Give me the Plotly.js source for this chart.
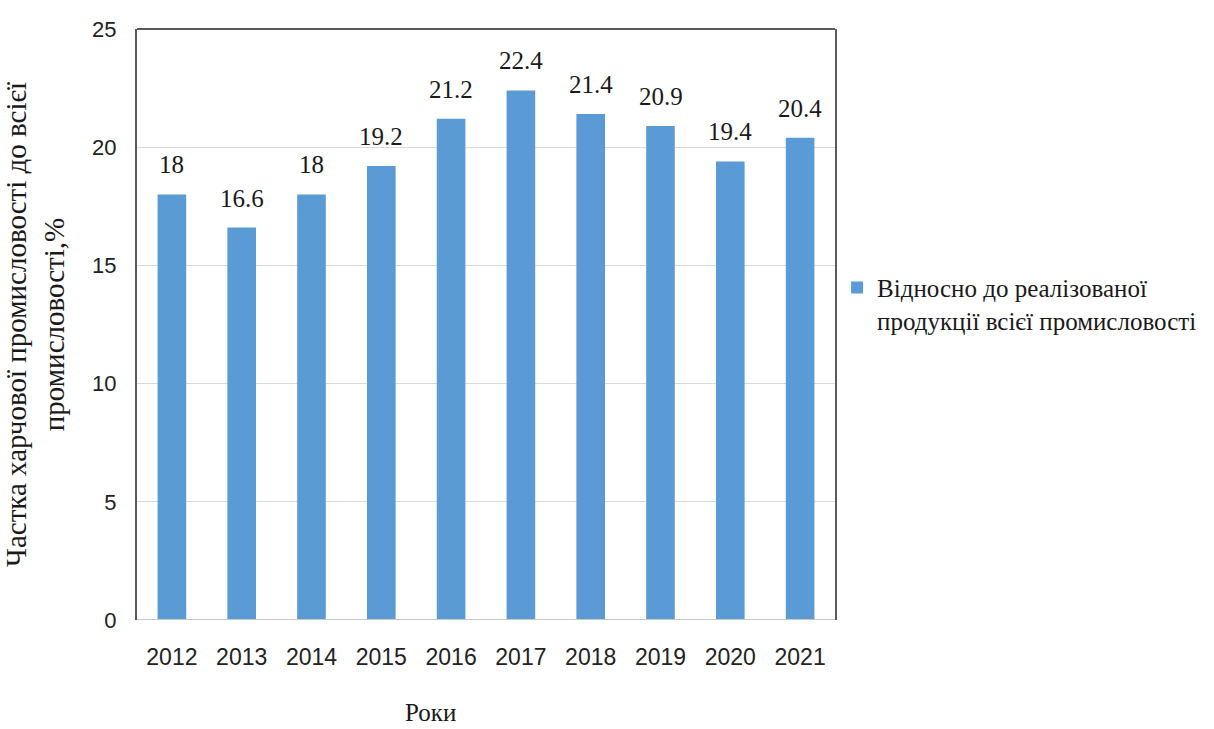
<!DOCTYPE html>
<html>
<head>
<meta charset="utf-8">
<script src="https://cdn.plot.ly/plotly-3.0.1.min.js"></script>
<style>html,body{margin:0;padding:0;background:#fff;}#chart{width:1214px;height:729px;}</style>
</head>
<body>
<div id="chart"></div>
<script>
const years = ["2012","2013","2014","2015","2016","2017","2018","2019","2020","2021"];
const shares = [18, 16.6, 18, 19.2, 21.2, 22.4, 21.4, 20.9, 19.4, 20.4];
const seriesName = "Відносно до реалізованої<br>продукції всієї промисловості";
const yTitle = "Частка харчової промисловості до всієї<br>промисловості,%";
const xTitle = "Роки";

const serif = "Liberation Serif";
const sans = "Liberation Sans";

// category axis: annotation x given as the category's serial index
const labelAnnotations = years.map((y, i) => ({
  x: i, y: shares[i], xref: "x", yref: "y",
  text: String(shares[i]), showarrow: false,
  yanchor: "bottom", yshift: 14,
  font: {family: serif, size: 25, color: "#1a1a1a"}
}));

const data = [{
  type: "bar",
  x: years,
  y: shares,
  name: seriesName,
  marker: {color: "#5B9BD5"},
  showlegend: true
}];

const layout = {
  width: 1214, height: 729,
  margin: {l: 137, r: 374, t: 29, b: 109},
  paper_bgcolor: "#fff", plot_bgcolor: "#fff",
  bargap: 0.59,
  showlegend: true,
  font: {family: serif},
  xaxis: {
    type: "category",
    range: [-0.5, years.length - 0.5],
    showgrid: false, showline: false, zeroline: false,
    ticks: "", ticklabelstandoff: 21,
    tickfont: {family: sans, size: 23, color: "#222"}
  },
  yaxis: {
    range: [0, 25], dtick: 5,
    showgrid: true, gridcolor: "#d9d9d9", gridwidth: 1,
    zeroline: false,
    showline: true, mirror: true, linecolor: "#595959", linewidth: 2,
    ticks: "", ticklabelstandoff: 14,
    tickfont: {family: sans, size: 22, color: "#222"},
    title: {text: yTitle, standoff: 20, font: {family: serif, size: 29, color: "#1a1a1a"}}
  },
  legend: {
    x: 1.003, xanchor: "left", y: 0.535, yanchor: "middle",
    valign: "top",
    font: {family: serif, size: 25, color: "#1a1a1a"},
    bgcolor: "rgba(0,0,0,0)"
  },
  shapes: [
    {type: "line", xref: "paper", yref: "paper", x0: 0, x1: 1, y0: 1, y1: 1, line: {color: "#595959", width: 2}},
    {type: "line", xref: "paper", yref: "y", x0: 0, x1: 1, y0: 0, y1: 0, line: {color: "#c8c8c8", width: 2}}
  ],
  annotations: labelAnnotations.concat([{
    xref: "paper", yref: "paper", x: 0.42, y: 0, yshift: -108,
    xanchor: "center", yanchor: "bottom", showarrow: false,
    text: xTitle, font: {family: serif, size: 25, color: "#1a1a1a"}
  }])
};

Plotly.newPlot("chart", data, layout, {displayModeBar: false, staticPlot: true});
</script>
</body>
</html>
